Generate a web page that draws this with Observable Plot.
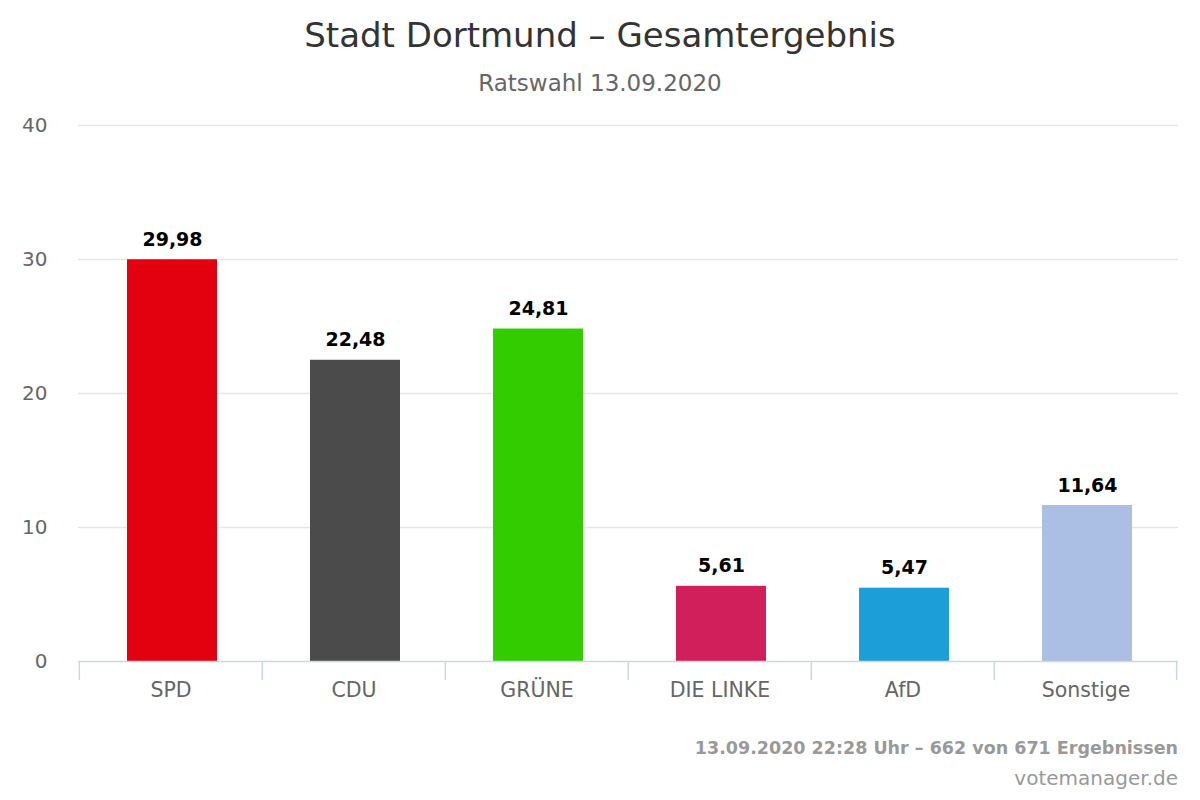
<!DOCTYPE html>
<html>
<head>
<meta charset="utf-8">
<script src="https://cdn.jsdelivr.net/npm/d3@7"></script>
<script src="https://cdn.jsdelivr.net/npm/@observablehq/plot@0.6"></script>
<style>
  html, body { margin: 0; padding: 0; background: #fff; }
  #wrap { position: relative; width: 1200px; height: 800px; font-family: "DejaVu Sans", sans-serif; overflow: hidden; }
  .t { position: absolute; white-space: nowrap; }
  #title { left: 0; width: 1200px; top: 14px; text-align: center; font-size: 34px; color: #333; line-height: 42px; }
  #subtitle { left: 0; width: 1200px; top: 68px; text-align: center; font-size: 23px; color: #666; line-height: 30px; }
  #chart { position: absolute; left: 0; top: 100px; }
  #cap1 { right: 22px; top: 736px; font-size: 17.5px; font-weight: bold; color: #999; line-height: 24px; }
  #cap2 { right: 22px; top: 765px; font-size: 20px; color: #999; line-height: 26px; }
</style>
</head>
<body>
<div id="wrap">
  <div class="t" id="title">Stadt Dortmund – Gesamtergebnis</div>
  <div class="t" id="subtitle">Ratswahl 13.09.2020</div>
  <div id="chart"></div>
  <div class="t" id="cap1">13.09.2020 22:28 Uhr – 662 von 671 Ergebnissen</div>
  <div class="t" id="cap2">votemanager.de</div>
</div>
<script>
const parties = ["SPD", "CDU", "GRÜNE", "DIE LINKE", "AfD", "Sonstige"];
const shares = [29.98, 22.48, 24.81, 5.61, 5.47, 11.64];
const colors = ["#e3000f", "#4b4b4b", "#33cc00", "#d01f5b", "#1c9fd9", "#abbfe5"];
const yTicks = [0, 10, 20, 30, 40];

const data = parties.map((p, i) => ({party: p, value: shares[i], label: shares[i].toFixed(2).replace(".", ",")}));

const W = 1200, H = 620, ML = 78, MR = 22, MT = 25, MB = 59;
const half = (W - ML - MR) / parties.length / 2;

const plot = Plot.plot({
  width: W,
  height: H,
  marginLeft: ML,
  marginRight: MR,
  marginTop: MT,
  marginBottom: MB,
  style: {fontFamily: "DejaVu Sans, sans-serif", background: "#fff"},
  x: {domain: parties, padding: 0, label: null},
  y: {domain: [0, 40], label: null},
  color: {domain: parties, range: colors},
  marks: [
    Plot.gridY(yTicks.filter(d => d > 0), {stroke: "#e6e6e6", strokeOpacity: 1, strokeWidth: 1.5}),
    Plot.axisY(yTicks, {tickSize: 0, tickPadding: 31, fontSize: 20, fill: "#666", label: null}),
    Plot.axisX({tickSize: 0, tickPadding: 21, fontSize: 20.5, fill: "#666", label: null}),
    Plot.barY(data, {x: "party", y: "value", fill: "party", insetLeft: 48, insetRight: 45}),
    Plot.ruleY([0], {stroke: "#ccd6eb", strokeWidth: 1.5}),
    Plot.ruleX(parties, {x: d => d, y1: 0, y2: 0, insetBottom: -19, dx: -half, stroke: "#ccd6eb", strokeWidth: 1.5}),
    Plot.ruleX(parties.slice(-1), {x: d => d, y1: 0, y2: 0, insetBottom: -19, dx: half - 1, stroke: "#ccd6eb", strokeWidth: 1.5}),
    Plot.text(data, {x: "party", y: "value", text: "label", dx: 1.5, dy: -14, lineAnchor: "bottom", fontSize: 19, fontWeight: "bold", fill: "#000"})
  ]
});
document.getElementById("chart").appendChild(plot);
</script>
</body>
</html>
